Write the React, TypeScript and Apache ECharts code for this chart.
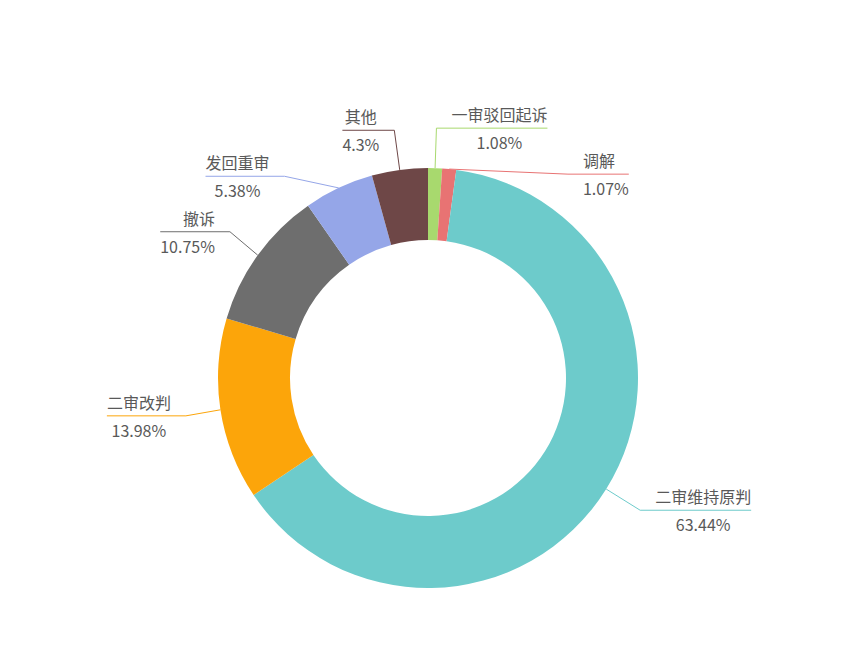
import { useEffect, useRef } from "react";
import * as echarts from "echarts";

// 案件结果分布（件数）
const NAMES = ["一审驳回起诉", "调解", "二审维持原判", "二审改判", "撤诉", "发回重审", "其他"];
const COUNTS = [1, 1, 59, 13, 10, 5, 4];
const COLORS = ["#a8d96e", "#e87373", "#6dcbcb", "#fca50a", "#6e6e6e", "#95a6e8", "#6e4747"];

// labels whose two lines keep the natural side alignment instead of centring
const SIDE_ALIGNED: Record<string, string> = { 撤诉: "right", 调解: "left" };

const FONT = "'Noto Sans CJK SC', 'Noto Sans', sans-serif";
const TEXT = "#595959";
const CX = 428;
const CY = 378;

export default function App() {
  const chartRef = useRef<HTMLDivElement>(null);

  useEffect(() => {
    if (!chartRef.current) return;
    const chart = echarts.init(chartRef.current, undefined, { renderer: "svg" });

    const rich = (align: string) => ({
      n: { fontSize: 16, lineHeight: 22, verticalAlign: "top", align, color: TEXT, fontFamily: FONT },
      p: { fontSize: 16, lineHeight: 22, verticalAlign: "bottom", align, color: TEXT, fontFamily: FONT },
    });

    const data = NAMES.map((name, i) => {
      const item: any = { name, value: COUNTS[i], itemStyle: { color: COLORS[i] } };
      if (SIDE_ALIGNED[name]) item.label = { rich: rich(SIDE_ALIGNED[name]) };
      return item;
    });

    const option: any = {
      animation: false,
      backgroundColor: "#ffffff",
      series: [
        {
          type: "pie",
          center: [CX, CY],
          radius: [138, 210],
          startAngle: 90,
          clockwise: true,
          avoidLabelOverlap: true,
          data,
          label: {
            show: true,
            position: "outside",
            formatter: "{n|{b}}\n{p|{d}%}",
            color: TEXT,
            fontFamily: FONT,
            fontSize: 16,
            padding: [0, 5],
            rich: rich("center"),
          },
          labelLine: {
            show: true,
            length: 40,
            length2: 5,
            lineStyle: { width: 1 },
          },
          // stretch the horizontal part of each guide line under its label
          labelLayout: (params: any) => {
            const points = params.labelLinePoints;
            if (!points) return {};
            const rect = params.labelRect;
            const isLeft = rect.x + rect.width / 2 < CX;
            points[2][0] = isLeft ? rect.x : rect.x + rect.width;
            return { labelLinePoints: points };
          },
          emphasis: { disabled: true },
        },
      ],
    };

    chart.setOption(option);
    return () => chart.dispose();
  }, []);

  return (
    <div
      ref={chartRef}
      style={{ position: "absolute", left: 0, top: 0, width: "847px", height: "665px" }}
    />
  );
}
